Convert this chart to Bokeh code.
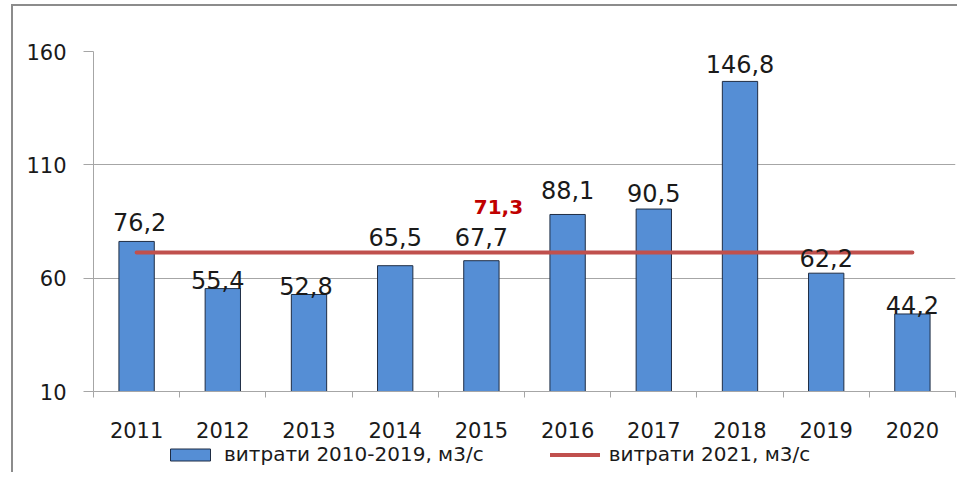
from bokeh.plotting import figure
from bokeh.layouts import column
from bokeh.models import (ColumnDataSource, Range1d, FixedTicker, Legend, LegendItem,
                          Label)
from bokeh.core.properties import value
from bokeh.embed import file_html
from bokeh.resources import INLINE

# ---- data ----
years = ["2011", "2012", "2013", "2014", "2015", "2016", "2017", "2018", "2019", "2020"]
flows_2010_2019 = [76.2, 55.4, 52.8, 65.5, 67.7, 88.1, 90.5, 146.8, 62.2, 44.2]
flows_2021 = [71.3] * len(years)
flow_2021_label = "71,3"
y_ticks = [10, 60, 110, 160]
legend_labels = ["витрати 2010-2019, м3/с", "витрати 2021, м3/с"]

# ---- styles (label placement, px above bar top) ----
label_offsets = [19, 9, 8, 29, 24, 24, 16, 17, 15, 9]
label_xshift = [3, -5, -3, 0, 0, 0, 0, 0, 0, 0]

FONT = "DejaVu Sans"
BAR = "#558ED5"
BAR_EDGE = "#1F2D44"
RED = "#C0504D"
GRID = "#A6A6A6"
TXT = "#1a1a1a"

xs = [i + 0.5 for i in range(len(years))]
src = ColumnDataSource(dict(
    x=xs, top=flows_2010_2019, line=flows_2021,
    txt=[f"{v:.1f}".replace(".", ",") for v in flows_2010_2019],
    yoff=[-o for o in label_offsets], xoff=label_xshift,
))

W = 944
p = figure(width=W, height=440, output_backend="svg", toolbar_location=None,
           x_range=Range1d(0, len(years)), y_range=Range1d(y_ticks[0], y_ticks[-1]),
           min_border_left=80, min_border_right=2, min_border_top=45, min_border_bottom=55)
p.outline_line_color = None
p.background_fill_color = "white"
p.border_fill_color = "white"

bars = p.vbar(x="x", top="top", bottom=y_ticks[0], width=0.41, source=src,
              fill_color=BAR, line_color=BAR_EDGE, line_width=1)
ln = p.line(x="x", y="line", source=src, line_color=RED, line_width=4, line_cap="round")

p.text(x="x", y="top", text="txt", source=src, y_offset="yoff", x_offset="xoff",
       text_align="center", text_baseline="alphabetic", text_font=value(FONT),
       text_font_size="24px", text_color=TXT)

p.add_layout(Label(x=xs[4], y=flows_2021[4], text=flow_2021_label, x_offset=17, y_offset=46,
                   text_align="center", text_baseline="alphabetic", text_font=FONT,
                   text_font_size="20px", text_font_style="bold", text_color="#C00000"))

# x axis
p.xaxis.ticker = FixedTicker(ticks=xs, minor_ticks=list(range(len(years) + 1)))
p.xaxis.major_label_overrides = {x: y for x, y in zip(xs, years)}
p.xaxis.major_tick_out = 0
p.xaxis.major_tick_in = 0
p.xaxis.minor_tick_out = 6
p.xaxis.minor_tick_in = 0
p.xaxis.minor_tick_line_color = GRID
p.xaxis.axis_line_color = GRID
p.xaxis.major_label_standoff = 24
p.xaxis.major_label_text_font = FONT
p.xaxis.major_label_text_font_size = "21px"
p.xaxis.major_label_text_color = TXT

# y axis
p.yaxis.ticker = FixedTicker(ticks=y_ticks, minor_ticks=[])
p.yaxis.major_tick_out = 10
p.yaxis.major_tick_in = 0
p.yaxis.major_tick_line_color = GRID
p.yaxis.axis_line_color = GRID
p.yaxis.major_label_standoff = 17
p.yaxis.major_label_text_font = FONT
p.yaxis.major_label_text_font_size = "21px"
p.yaxis.major_label_text_color = TXT

p.xgrid.grid_line_color = None
p.ygrid.grid_line_color = GRID
p.ygrid.ticker = FixedTicker(ticks=y_ticks)

# ---- legend strip (separate figure; hidden copies of the same series as legend glyphs) ----
lf = figure(width=W, height=30, output_backend="svg", toolbar_location=None,
            x_range=Range1d(0, len(years)), y_range=Range1d(y_ticks[0], y_ticks[-1]),
            x_axis_type=None, y_axis_type=None, min_border=0)
lf.outline_line_color = None
lf.xgrid.visible = False
lf.ygrid.visible = False
lf.styles = {"margin-top": "-4px"}
pbar = lf.vbar(x="x", top="top", bottom=y_ticks[0], width=0.41, source=src,
               fill_color=BAR, line_color=BAR_EDGE, line_width=1, visible=False)
pline = lf.line(x="x", y="line", source=src, line_color=RED, line_width=4,
                line_cap="round", visible=False)

legend = Legend(items=[LegendItem(label=legend_labels[0], renderers=[pbar]),
                       LegendItem(label=legend_labels[1], renderers=[pline])],
                orientation="horizontal", location="top_left",
                title=" ", title_location="left", title_standoff=70,
                title_text_font_size="2px",
                glyph_width=50, glyph_height=15, label_standoff=9, spacing=66,
                padding=0, margin=0, border_line_color=None, background_fill_alpha=0,
                label_text_font=FONT, label_text_font_size="20px",
                label_text_color=TXT, label_height=20)
lf.add_layout(legend, "center")

layout = column(p, lf, spacing=0,
                styles={"border-left": "2px solid #8c8c8c", "border-top": "2px solid #8c8c8c",
                        "margin-left": "11px", "margin-top": "4px"})

open("out.html", "w").write(file_html(layout, INLINE))
